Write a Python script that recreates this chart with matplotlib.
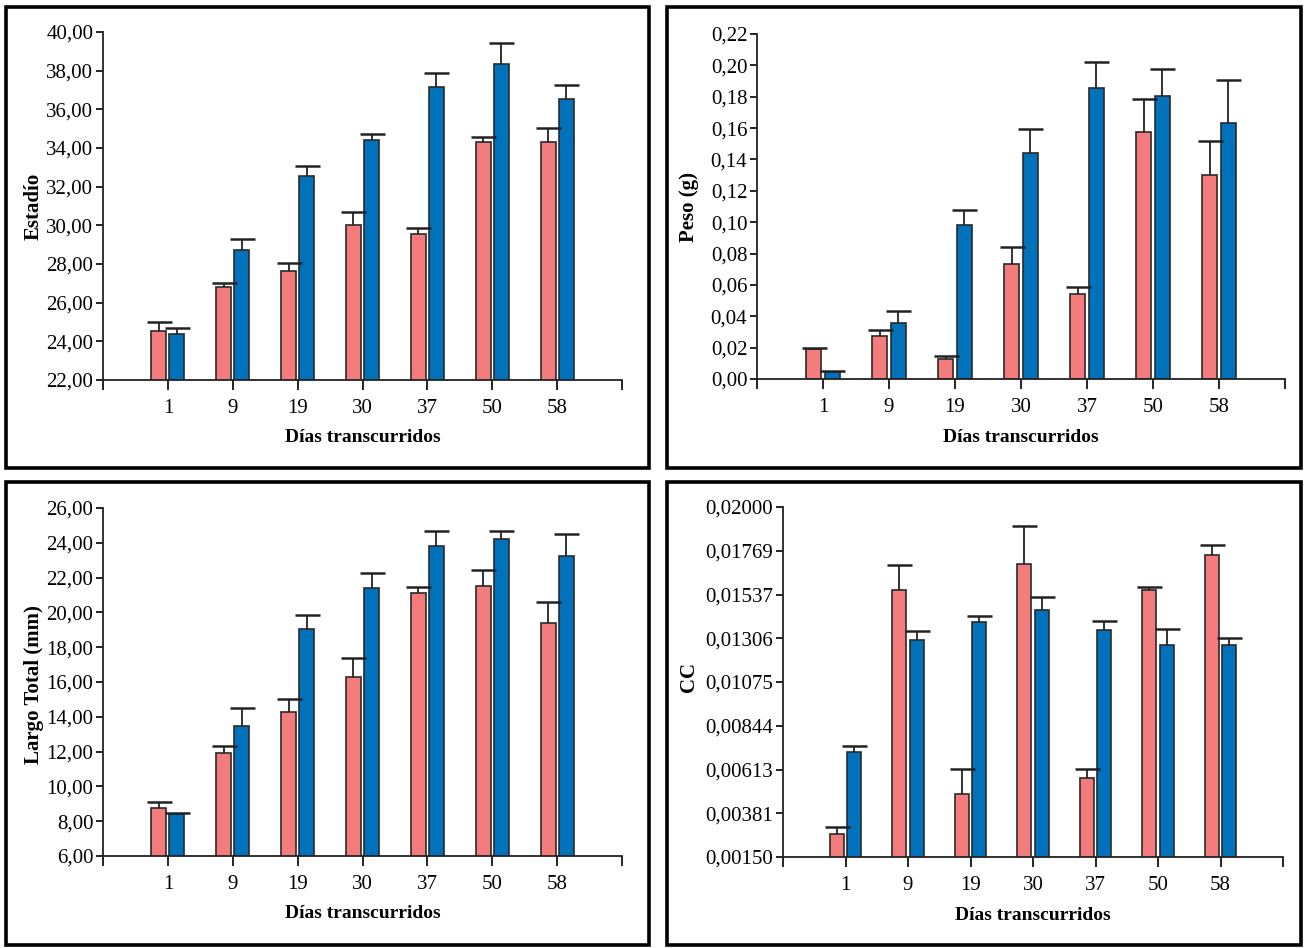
import numpy as np
import matplotlib.pyplot as plt
from matplotlib.patches import Rectangle

plt.rcParams['font.family'] = ['Liberation Serif', 'DejaVu Serif']

# ------------------------------------
#              - Datos -
# ------------------------------------
dias = ['1', '9', '19', '30', '37', '50', '58']

estadio_rojo = [24.52, 26.80, 27.66, 30.01, 29.55, 34.33, 34.33]
estadio_rojo_err = [0.46, 0.23, 0.38, 0.69, 0.31, 0.24, 0.71]
estadio_azul = [24.38, 28.70, 32.54, 34.40, 37.15, 38.36, 36.51]
estadio_azul_err = [0.30, 0.60, 0.53, 0.31, 0.71, 1.05, 0.73]

peso_rojo = [0.0190, 0.0274, 0.0128, 0.0733, 0.0540, 0.1575, 0.1299]
peso_rojo_err = [0.0006, 0.0038, 0.0020, 0.0110, 0.0049, 0.0208, 0.0217]
peso_azul = [0.0045, 0.0359, 0.0982, 0.1439, 0.1853, 0.1804, 0.1632]
peso_azul_err = [0.0006, 0.0077, 0.0093, 0.0153, 0.0170, 0.0170, 0.0274]

largo_rojo = [8.78, 11.93, 14.26, 16.26, 21.13, 21.49, 19.40]
largo_rojo_err = [0.35, 0.42, 0.79, 1.11, 0.35, 0.94, 1.19]
largo_azul = [8.42, 13.50, 19.06, 21.40, 23.83, 24.20, 23.22]
largo_azul_err = [0.06, 1.03, 0.77, 0.86, 0.86, 0.50, 1.28]

cc_rojo = [0.00272, 0.01560, 0.00482, 0.01698, 0.00567, 0.01560, 0.01746]
cc_rojo_err = [0.00037, 0.00136, 0.00134, 0.00200, 0.00048, 0.00016, 0.00055]
cc_azul = [0.00706, 0.01296, 0.01393, 0.01456, 0.01350, 0.01270, 0.01270]
cc_azul_err = [0.00032, 0.00046, 0.00030, 0.00070, 0.00048, 0.00087, 0.00040]

estadio_ticks = np.arange(22, 40.1, 2)
peso_ticks = np.arange(0, 0.2201, 0.02)
largo_ticks = np.arange(6, 26.1, 2)
cc_ticks = np.linspace(0.0015, 0.02, 9)
cc_ticklabels = ['0,00150', '0,00381', '0,00613', '0,00844', '0,01075',
                 '0,01306', '0,01537', '0,01769', '0,02000']

ROJO = '#F57C7C'
AZUL = '#0072BC'
W, H = 1306, 948

fig = plt.figure(figsize=(W / 100, H / 100), dpi=100)


def px_axes(x0, y0, x1, y1):
    return fig.add_axes([x0 / W, 1 - y1 / H, (x1 - x0) / W, (y1 - y0) / H])


def caja(x0, y0, x1, y1):
    fig.add_artist(Rectangle((x0 / W, 1 - y1 / H), (x1 - x0) / W, (y1 - y0) / H,
                             transform=fig.transFigure, fill=False,
                             lw=2.6, ec='black'))


def panel(rect, rojo, rojo_err, azul, azul_err, yticks, ylabels, ylabel, ylab_xy, xlab_y):
    ax = px_axes(*rect)
    x = np.arange(len(dias))
    w = 0.23
    for off, vals, err, col in [(-0.14, rojo, rojo_err, ROJO), (0.14, azul, azul_err, AZUL)]:
        ax.bar(x + off, vals, width=w, color=col, edgecolor='#2a2a2a', lw=1.2,
               zorder=2)
        eb = ax.errorbar(x + off, vals, yerr=[np.zeros(len(err)), err], fmt='none',
                         ecolor='#222222', elinewidth=1.3, capsize=9,
                         capthick=1.8, zorder=3)
        eb[1][0].set_visible(False)
    ax.set_xlim(-1, 7)
    ax.set_ylim(yticks[0], yticks[-1])
    ax.set_yticks(yticks)
    ax.set_yticklabels(ylabels, fontsize=15)
    ax.set_xticks(x)
    ax.set_xticklabels(dias, fontsize=15)
    ax.set_xticks([-1, 7], minor=True)
    ax.tick_params(axis='x', which='both', length=7, width=1.2, pad=7)
    ax.tick_params(axis='y', length=5, width=1.2, pad=2)
    for s in ['top', 'right']:
        ax.spines[s].set_visible(False)
    for s in ['left', 'bottom']:
        ax.spines[s].set_linewidth(1.3)
        ax.spines[s].set_color('#222222')
    fig.text(ylab_xy[0] / W, 1 - ylab_xy[1] / H, ylabel, rotation=90,
             ha='center', va='center', fontsize=15, fontweight='bold')
    cx = (rect[0] + rect[2]) / 2
    fig.text(cx / W, 1 - xlab_y / H, 'Días transcurridos', ha='center',
             va='center', fontsize=14, fontweight='bold')
    return ax


def fmt2(ticks):
    return [('%.2f' % t).replace('.', ',') for t in ticks]


panel((103, 32, 622, 380), estadio_rojo, estadio_rojo_err, estadio_azul,
      estadio_azul_err, estadio_ticks, fmt2(estadio_ticks), 'Estadío',
      (34, 206), 437)
panel((757, 34, 1285, 379), peso_rojo, peso_rojo_err, peso_azul,
      peso_azul_err, peso_ticks, fmt2(peso_ticks), 'Peso (g)',
      (689, 207), 437)
panel((103, 508, 622, 856), largo_rojo, largo_rojo_err, largo_azul,
      largo_azul_err, largo_ticks, fmt2(largo_ticks), 'Largo Total (mm)',
      (34, 685), 914)
panel((783, 507, 1283, 857), cc_rojo, cc_rojo_err, cc_azul,
      cc_azul_err, cc_ticks, cc_ticklabels, 'CC',
      (689, 677), 915)

caja(6, 7, 649, 468)
caja(667, 7, 1301, 468)
caja(6, 482, 649, 945)
caja(667, 482, 1301, 945)

fig.savefig('out.png', dpi=100)
